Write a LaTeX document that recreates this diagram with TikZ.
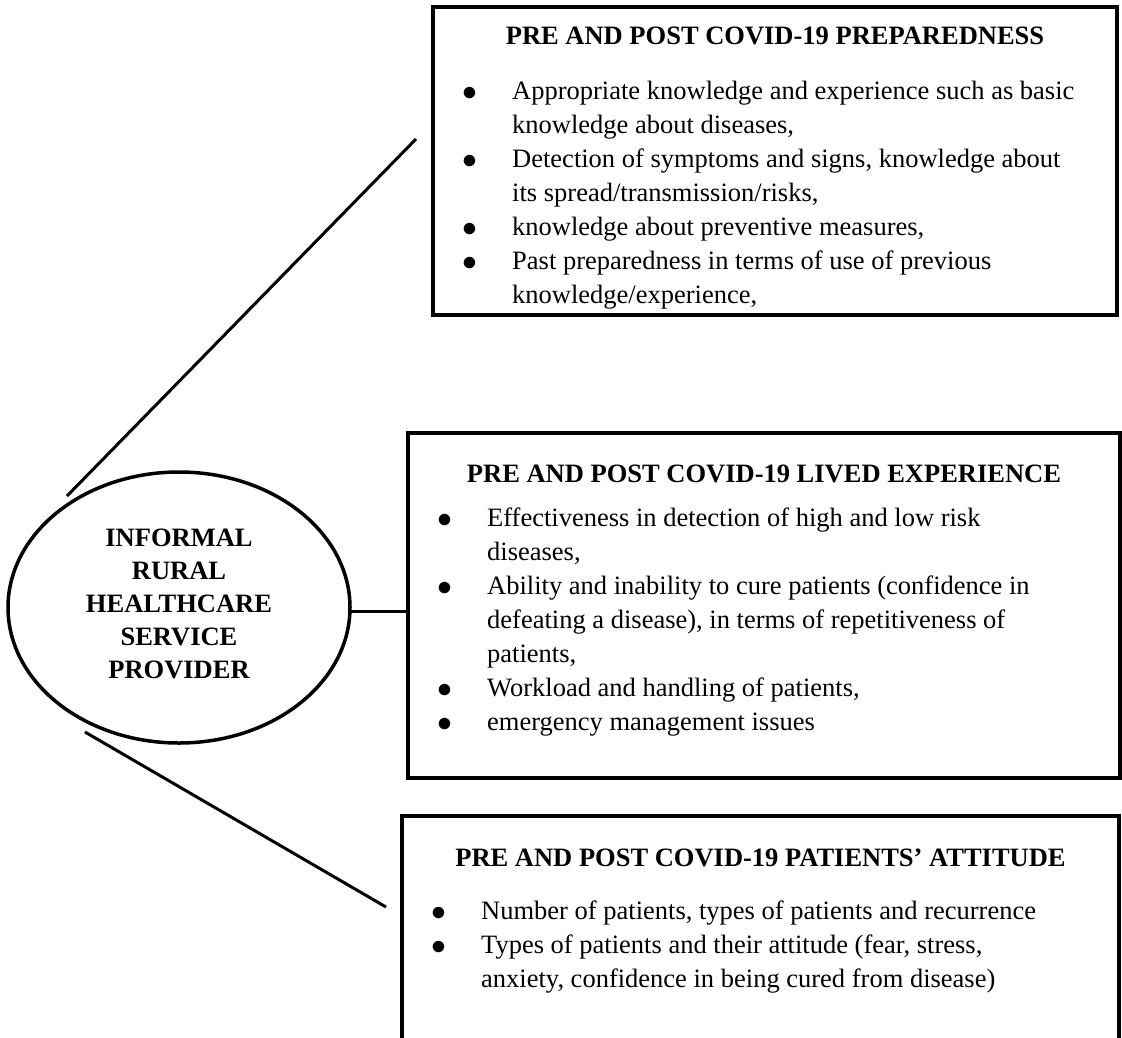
\documentclass[tikz,border=0pt]{standalone}
\usepackage{fontspec}
\setmainfont{Liberation Serif}
\usepackage{tikz}
\usetikzlibrary{shapes,shapes.geometric,positioning,calc}
\newcommand{\bul}{\raisebox{-1.5pt}{\scalebox{1.2}{$\bullet$}}}

\begin{document}
\begin{tikzpicture}[
    x=1pt, y=-1pt,
    box/.style={rectangle, draw=black, line width=3.5pt, inner sep=0pt},
    hub/.style={ellipse, draw=black, line width=3.5pt, inner sep=0pt, minimum width=342pt, minimum height=271pt},
    hubtext/.style={inner sep=0pt, align=center, font=\fontsize{26.5}{33}\selectfont\bfseries},
    title/.style={anchor=base, inner sep=0pt, font=\fontsize{26.5}{34}\selectfont\bfseries},
    list/.style={anchor=base west, inner sep=0pt, font=\fontsize{26.5}{34}\selectfont},
    link/.style={line width=3pt}
]
    \useasboundingbox (0,0) rectangle (1122,1037);

    % centre
    \node[hub] (provider) at (179,607.5) {};
    \node[hubtext] (providerText) at ($(provider.center)+(0,-4)$) {INFORMAL\\RURAL\\HEALTHCARE\\SERVICE\\PROVIDER};

    % the three boxes
    \node[box, minimum width=684pt, minimum height=308pt] (prep) at (775,161) {};
    \node[box, minimum width=712pt, minimum height=345pt] (lived) at (764,605.5) {};
    \node[box, minimum width=717pt, minimum height=244pt] (attitude) at (760.5,938) {};

    \node[title] (prepTitle) at (775,44) {PRE AND POST COVID-19 PREPAREDNESS};
    \node[list] (prepList) at (462,99) {%
        \begin{tabular}[t]{@{}p{50pt}@{}l@{}}
        \bul & Appropriate knowledge and experience such as basic\\
             & knowledge about diseases,\\
        \bul & Detection of symptoms and signs, knowledge about\\
             & its spread/transmission/risks,\\
        \bul & knowledge about preventive measures,\\
        \bul & Past preparedness in terms of use of previous\\
             & knowledge/experience,
        \end{tabular}};

    \node[title] (livedTitle) at (764,482) {PRE AND POST COVID-19 LIVED EXPERIENCE};
    \node[list] (livedList) at (437,526) {%
        \begin{tabular}[t]{@{}p{50pt}@{}l@{}}
        \bul & Effectiveness in detection of high and low risk\\
             & diseases,\\
        \bul & Ability and inability to cure patients (confidence in\\
             & defeating a disease), in terms of repetitiveness of\\
             & patients,\\
        \bul & Workload and handling of patients,\\
        \bul & emergency management issues
        \end{tabular}};

    \node[title] (attitudeTitle) at (760.5,866) {PRE AND POST COVID-19 PATIENTS’ ATTITUDE};
    \node[list] (attitudeList) at (431,919) {%
        \begin{tabular}[t]{@{}p{50pt}@{}l@{}}
        \bul & Number of patients, types of patients and recurrence\\
        \bul & Types of patients and their attitude (fear, stress,\\
             & anxiety, confidence in being cured from disease)
        \end{tabular}};

    % connectors
    \coordinate (provTop) at (67,496);
    \coordinate (prepEnd) at (416,139);
    \coordinate (provBot) at (85,732);
    \coordinate (attitudeEnd) at (386,907);
    \coordinate (provRight) at ($(provider.east)+(-1,4)$);

    \draw[link] (provTop) -- (prepEnd);
    \draw[link] (provRight) -- (provRight -| lived.west);
    \draw[link] (provBot) -- (attitudeEnd);
\end{tikzpicture}
\end{document}
